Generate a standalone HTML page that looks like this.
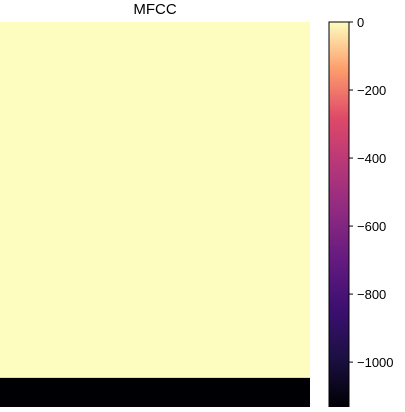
<!DOCTYPE html>
<html><head><meta charset="utf-8"><style>
body{margin:0;background:#fff;width:405px;height:407px;overflow:hidden}
svg text{font-family:"Liberation Sans","DejaVu Sans",sans-serif;font-size:13px;fill:#000}
</style></head><body>
<svg id="c" width="405" height="407">
<defs><linearGradient id="mg" x1="0" y1="1" x2="0" y2="0">
<stop offset="0" stop-color="#000004"/><stop offset="0.13" stop-color="#1c1044"/>
<stop offset="0.25" stop-color="#3b0f70"/><stop offset="0.38" stop-color="#641a80"/>
<stop offset="0.5" stop-color="#8c2981"/><stop offset="0.63" stop-color="#b73779"/>
<stop offset="0.75" stop-color="#de4968"/><stop offset="0.88" stop-color="#fe9f6d"/>
<stop offset="1" stop-color="#fcfdbf"/></linearGradient></defs>
<text x="155" y="14" text-anchor="middle" style="font-size:15px">MFCC</text>
<g id="heat"></g>
<rect x="329" y="22" width="20" height="385" fill="url(#mg)" stroke="#000" stroke-width="1"/>
<g id="cb"></g>
</svg>
<script>
const coeffRows=[0,1,2,3,4,5,6,7,8,9,10,11,12];
const rowValues=[-1132,0,0,0,0,0,0,0,0,0,0,0,0];
const cbTicks=[0,-200,-400,-600,-800,-1000];
const cbLabels=["0","\u2212200","\u2212400","\u2212600","\u2212800","\u22121000"];
const vmin=-1132,vmax=0;
const ns="http://www.w3.org/2000/svg";
const yTop=22,yBot=407,hh=yBot-yTop,rh=hh/coeffRows.length;
const stops=[[0,0,0,4],[.13,28,16,68],[.25,59,15,112],[.38,100,26,128],[.5,140,41,129],[.63,183,55,121],[.75,222,73,104],[.88,254,159,109],[1,252,253,191]];
function magma(t){for(let i=1;i<stops.length;i++){if(t<=stops[i][0]){const a=stops[i-1],b=stops[i],f=(t-a[0])/(b[0]-a[0]);return`rgb(${[1,2,3].map(k=>Math.round(a[k]+f*(b[k]-a[k]))).join(',')})`;}}return'rgb(252,253,191)';}
function yRow(i){return yBot-(i+1)*rh;}
function yCb(v){return yTop+(vmax-v)/(vmax-vmin)*hh;}
const heat=document.getElementById('heat');
coeffRows.forEach((r,i)=>{const el=document.createElementNS(ns,'rect');
el.setAttribute('x',0);el.setAttribute('y',yRow(i));el.setAttribute('width',310);el.setAttribute('height',rh+0.5);
el.setAttribute('fill',magma((rowValues[i]-vmin)/(vmax-vmin)));


heat.appendChild(el);});
const cb=document.getElementById('cb');
cbTicks.forEach((v,i)=>{const y=yCb(v);
const l=document.createElementNS(ns,'line');l.setAttribute('x1',349);l.setAttribute('x2',353);l.setAttribute('y1',y);l.setAttribute('y2',y);l.setAttribute('stroke','#000');


cb.appendChild(l);
const t=document.createElementNS(ns,'text');t.setAttribute('x',357);t.setAttribute('y',y+5);t.textContent=cbLabels[i];


cb.appendChild(t);});
</script>
</body></html>
